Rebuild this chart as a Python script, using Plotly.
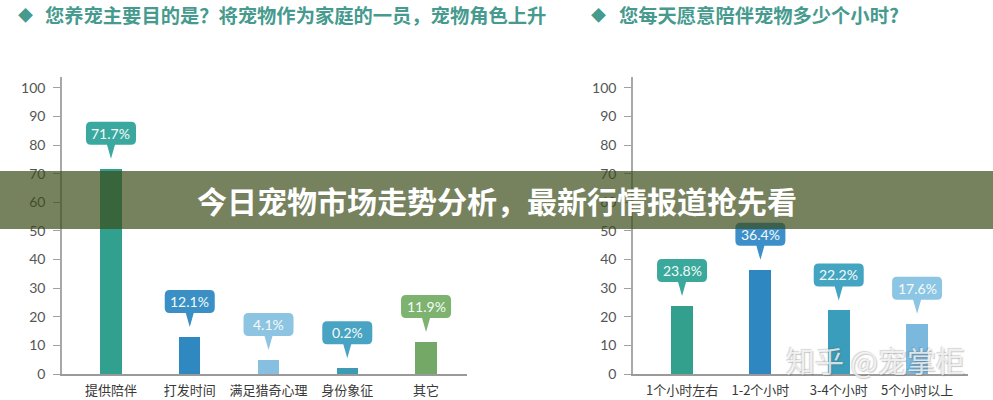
import plotly.graph_objects as go

# ---------------- data ----------------
left_title = "您养宠主要目的是？将宠物作为家庭的一员，宠物角色上升"
right_title = "您每天愿意陪伴宠物多少个小时?"
banner_text = "今日宠物市场走势分析，最新行情报道抢先看"
watermark = "知乎 @宠掌柜"

left_cats = ["提供陪伴", "打发时间", "满足猎奇心理", "身份象征", "其它"]
left_values = [71.7, 12.9, 4.9, 2.0, 11.2]          # bar heights as drawn
left_labels = ["71.7%", "12.1%", "4.1%", "0.2%", "11.9%"]

right_cats = ["1个小时左右", "1-2个小时", "3-4个小时", "5个小时以上"]
right_values = [23.8, 36.4, 22.2, 17.6]
right_labels = ["23.8%", "36.4%", "22.2%", "17.6%"]

y_ticks = [0, 10, 20, 30, 40, 50, 60, 70, 80, 90, 100]

# ---------------- styles ----------------
left_bar_colors = ["#31a08e", "#2f88c0", "#86bfe0", "#3d9ab5", "#74a866"]
left_tag_colors = ["#3aa89e", "#3a8fc5", "#8cc4e2", "#48a4c2", "#7db36f"]
right_bar_colors = ["#33a08e", "#2f87c2", "#3a9dbb", "#7ab8dd"]
right_tag_colors = ["#3aa89a", "#3d8fca", "#44a5c2", "#8dc5e4"]
TEAL = "#469a8e"
W, H = 993, 400


def callout_path(w=50, tip=10, base=24, top=47, r=5, hw=4):
    hx = w / 2
    return (f"M0,{tip} L{hw},{base} L{hx - r},{base} Q{hx},{base} {hx},{base + r} "
            f"L{hx},{top - r} Q{hx},{top} {hx - r},{top} L{-hx + r},{top} "
            f"Q{-hx},{top} {-hx},{top - r} L{-hx},{base + r} Q{-hx},{base} {-hx + r},{base} "
            f"L{-hw},{base} Z")


fig = go.Figure()
fig.add_bar(x=list(range(len(left_cats))), y=left_values, marker_color=left_bar_colors,
            marker_line_width=0, width=0.27, xaxis="x", yaxis="y", hoverinfo="skip")
fig.add_bar(x=list(range(len(right_cats))), y=right_values, marker_color=right_bar_colors,
            marker_line_width=0, width=0.28, xaxis="x2", yaxis="y2", hoverinfo="skip")

shapes = []
annotations = []
for (vals, labels, colors, xr, yr) in [
    (left_values, left_labels, left_tag_colors, "x", "y"),
    (right_values, right_labels, right_tag_colors, "x2", "y2"),
]:
    for i, (v, lab, c) in enumerate(zip(vals, labels, colors)):
        shapes.append(dict(type="path", xref=xr, yref=yr, xsizemode="pixel", ysizemode="pixel",
                           xanchor=i, yanchor=v, path=callout_path(), fillcolor=c,
                           line=dict(width=0), layer="above"))
        annotations.append(dict(x=i, y=v, xref=xr, yref=yr, showarrow=False, yshift=35.5,
                                text=lab, font=dict(family="Lato", size=14, color="#f4fbf9")))

# banner
shapes.append(dict(type="rect", xref="paper", yref="paper", x0=0, x1=1,
                   y0=(H - 229) / H, y1=(H - 171) / H, fillcolor="rgba(60,75,25,0.70)",
                   line=dict(width=0), layer="above"))
annotations.append(dict(x=0.5, y=(H - 200) / H, xref="paper", yref="paper", showarrow=False,
                        text=f"<b>{banner_text}</b>",
                        font=dict(family="Noto Sans CJK SC", size=30, color="white")))

# titles
for dx, tx, txt in [(25, 43, left_title), (598, 617, right_title)]:
    annotations.append(dict(x=dx / W, y=(H - 15) / H, xref="paper", yref="paper", showarrow=False,
                            xanchor="center", yanchor="middle", text="◆",
                            font=dict(family="Noto Sans CJK SC", size=15, color=TEAL)))
    annotations.append(dict(x=tx / W, y=(H - 15) / H, xref="paper", yref="paper", showarrow=False,
                            xanchor="left", yanchor="middle", text=f"<b>{txt}</b>",
                            font=dict(family="Noto Sans CJK SC", size=19.3, color=TEAL)))

# watermark
annotations.append(dict(x=875 / W, y=(H - 360) / H, xref="paper", yref="paper", showarrow=False,
                        xanchor="center", yanchor="middle", text=watermark,
                        font=dict(family="Noto Sans CJK SC", size=29, color="rgba(250,250,250,0.8)",
                                  shadow="1px 1px 1px rgba(90,90,90,0.4), -1px -1px 1px rgba(90,90,90,0.3)")))

ydom = [(H - 374) / H, (H - 77) / H]
yaxis_common = dict(domain=ydom, range=[0, 103.8], tickvals=y_ticks, ticks="outside", ticklen=7,
                    tickcolor="#a0a0a0", tickwidth=1.2, showline=True, linecolor="#a8a8a8", linewidth=1.5,
                    showgrid=False, zeroline=False, ticklabelstandoff=5, automargin=False,
                    tickfont=dict(family="Lato", size=14, color="#555555"))
xaxis_common = dict(showline=True, linecolor="#9a9a9a", linewidth=1.5, ticks="", showgrid=False,
                    zeroline=False, ticklabelstandoff=4, automargin=False,
                    tickfont=dict(family="Noto Sans CJK SC", size=13, color="#383838"))

fig.update_layout(
    width=W, height=H, margin=dict(l=0, r=0, t=0, b=0, pad=0),
    paper_bgcolor="white", plot_bgcolor="white", showlegend=False, bargap=0,
    xaxis=dict(domain=[62 / W, 467 / W], range=[-0.622, 4.52], anchor="y",
               tickvals=list(range(len(left_cats))), ticktext=left_cats, **xaxis_common),
    yaxis=dict(anchor="x", **yaxis_common),
    xaxis2=dict(domain=[633 / W, 968 / W], range=[-0.626, 3.65], anchor="y2",
                tickvals=list(range(len(right_cats))), ticktext=right_cats, **xaxis_common),
    yaxis2=dict(anchor="x2", **yaxis_common),
    shapes=shapes, annotations=annotations,
)

fig.write_html("out.html", config={"displayModeBar": False},
               post_script="document.body.style.margin='0';document.body.style.overflow='hidden';")
